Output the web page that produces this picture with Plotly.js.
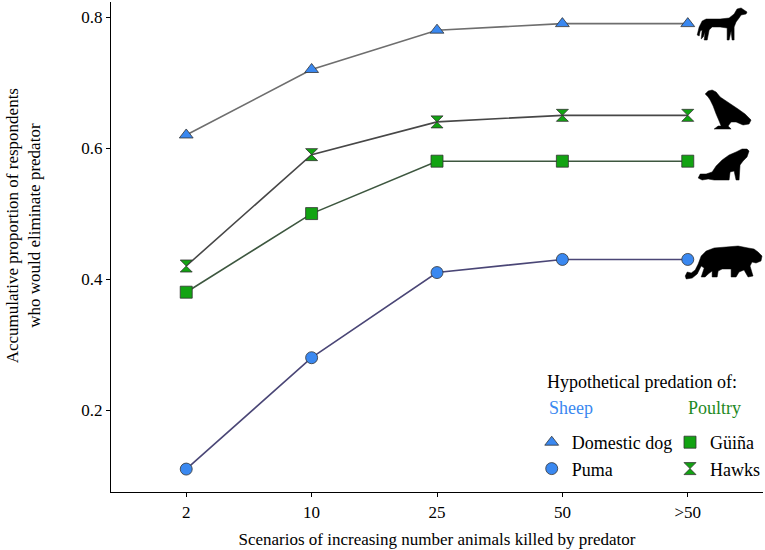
<!DOCTYPE html>
<html>
<head>
<meta charset="utf-8">
<script src="https://cdn.plot.ly/plotly-3.0.1.min.js"></script>
<style>
  html, body { margin: 0; padding: 0; background: #ffffff; }
  #grafico { width: 765px; height: 550px; }
</style>
</head>
<body>
<div id="grafico"></div>
<script>
// categorias do eixo x
var cenarios = ['2', '10', '25', '50', '>50'];

// proporcao acumulada de respondentes por predador
var caoDomestico = [0.62, 0.72, 0.78, 0.79, 0.79];
var puma = [0.11, 0.28, 0.41, 0.43, 0.43];
var guina = [0.38, 0.50, 0.58, 0.58, 0.58];
var gavioes = [0.42, 0.59, 0.64, 0.65, 0.65];

var yTicks = [0.2, 0.4, 0.6, 0.8];

var AZUL = '#3a88f0';
var VERDE = '#12a312';
var FONTE = 'Liberation Serif, Times New Roman, serif';

// area do grafico em pixels (para silhuetas e textos soltos)
var AREA = { x0: 111, x1: 765, y0: 2, y1: 492 };

function px2x(px) { return (px - AREA.x0) / (AREA.x1 - AREA.x0); }
function px2y(py) { return (AREA.y1 - py) / (AREA.y1 - AREA.y0); }

function serie(nome, valores, simbolo, corMarcador, corLinha) {
    return {
        x: cenarios, y: valores,
        type: 'scatter', mode: 'lines+markers', name: nome,
        showlegend: false,
        line: { color: corLinha, width: 1.6 },
        marker: { symbol: simbolo, size: 12, color: corMarcador, line: { color: '#333333', width: 0.8 } },
        hovertemplate: '<b>' + nome + '</b><br>%{x}: %{y:.2f}<extra></extra>'
    };
}

function itemLegenda(nome, simbolo, cor, legenda) {
    return {
        x: [null], y: [null], type: 'scatter', mode: 'markers', name: nome,
        legend: legenda,
        marker: { symbol: simbolo, size: 12, color: cor, line: { color: '#333333', width: 0.8 } }
    };
}

// converte pontos em pixels para coordenadas "paper"
function caminho(pontos) {
    return pontos.map(function(p, i) {
        return (i === 0 ? 'M' : 'L') + px2x(p[0]).toFixed(4) + ',' + px2y(p[1]).toFixed(4);
    }).join(' ') + ' Z';
}

var silhuetaCao = [[699,35],[701,27],[704,21],[708,19],[722,19],[731,18],[736,14],[739,9],[743,8],[746,10],[749,12],
    [748,14],[743,15],[741,18],[738,22],[736,27],[736,40],[734,40],[733,31],[731,40],[729,40],[729,28],[722,27],
    [714,27],[711,30],[709,40],[706,40],[707,32],[705,37],[703,39],[704,30],[702,31],[701,36]];
var silhuetaGaviao = [[707,94],[710,91],[714,90],[718,92],[722,97],[731,103],[740,109],[747,114],[753,120],[751,124],
    [745,125],[738,122],[733,122],[730,126],[733,129],[716,129],[720,126],[723,126],[721,121],[718,114],[715,106],
    [712,100],[710,97]];
var silhuetaGuina = [[700,178],[702,174],[708,174],[714,172],[718,166],[724,160],[731,155],[738,152],[744,149],[749,149],
    [751,151],[749,157],[745,161],[742,165],[741,180],[738,180],[736,171],[732,172],[731,180],[716,180],[710,179],[704,180]];
var silhuetaPuma = [[687,276],[689,272],[693,273],[697,270],[700,264],[703,256],[708,251],[716,248],[728,247],[740,246],
    [750,248],[756,249],[760,252],[764,256],[763,261],[758,263],[754,262],[752,266],[755,276],[750,277],[746,270],
    [741,272],[738,277],[733,277],[733,269],[724,269],[720,271],[719,277],[714,277],[714,271],[710,274],[707,277],
    [703,277],[706,268],[703,266],[699,274],[694,278],[688,279]];

function forma(pontos) {
    return { type: 'path', xref: 'paper', yref: 'paper', path: caminho(pontos),
        fillcolor: '#000000', line: { color: '#000000', width: 0.5 }, layer: 'above' };
}

function texto(t, xPx, yPx, cor, tamanho, extra) {
    return Object.assign({
        text: t, xref: 'paper', yref: 'paper', x: px2x(xPx), y: px2y(yPx),
        xanchor: 'left', yanchor: 'middle', showarrow: false,
        font: { family: FONTE, size: tamanho, color: cor }
    }, extra || {});
}

var traces = [
    serie('Domestic dog', caoDomestico, 'triangle-up', AZUL, '#6e6e6e'),
    serie('Hawks', gavioes, 'hourglass', VERDE, '#474747'),
    serie('Güiña', guina, 'square', VERDE, '#3d573f'),
    serie('Puma', puma, 'circle', AZUL, '#4a4676'),
    itemLegenda('Domestic dog', 'triangle-up', AZUL, 'legend'),
    itemLegenda('Puma', 'circle', AZUL, 'legend'),
    itemLegenda('Güiña', 'square', VERDE, 'legend2'),
    itemLegenda('Hawks', 'hourglass', VERDE, 'legend2')
];

var eixoBase = {
    showgrid: false, zeroline: false, showline: true, linecolor: '#000000', linewidth: 1.2,
    ticks: 'outside', ticklen: 4, tickcolor: '#000000', tickwidth: 1,
    tickfont: { family: FONTE, size: 17, color: '#000000' }
};

var legendaBase = {
    bgcolor: 'rgba(0,0,0,0)', borderwidth: 0, xanchor: 'left', yanchor: 'top',
    font: { family: FONTE, size: 18, color: '#000000' }, tracegroupgap: 0, itemclick: false
};

var layout = {
    width: 765, height: 550,
    paper_bgcolor: '#ffffff', plot_bgcolor: '#ffffff',
    font: { family: FONTE, color: '#000000' },
    margin: { t: 2, r: 0, b: 58, l: 111 },
    xaxis: Object.assign({}, eixoBase, {
        type: 'category', range: [-0.6, 4.6],
        title: { text: 'Scenarios of increasing number animals killed by predator', font: { family: FONTE, size: 17 }, standoff: 12 }
    }),
    yaxis: Object.assign({}, eixoBase, {
        range: [0.075, 0.823], tickvals: yTicks, tickformat: '.1f'
    }),
    legend: Object.assign({}, legendaBase, { x: px2x(533), y: px2y(424) }),
    legend2: Object.assign({}, legendaBase, { x: px2x(672), y: px2y(424) }),
    annotations: [
        texto('Accumulative proportion of respondents<br>who would eliminate predator', 23, 226, '#000000', 17,
            { xanchor: 'center', textangle: -90 }),
        texto('Hypothetical predation of:', 546, 382, '#000000', 18),
        texto('Sheep', 548, 408, AZUL, 18),
        texto('Poultry', 688, 408, '#1f8a1f', 18)
    ],
    shapes: [forma(silhuetaCao), forma(silhuetaGaviao), forma(silhuetaGuina), forma(silhuetaPuma)],
    hovermode: 'closest'
};

Plotly.newPlot('grafico', traces, layout, { displayModeBar: false, responsive: false });
</script>
</body>
</html>
